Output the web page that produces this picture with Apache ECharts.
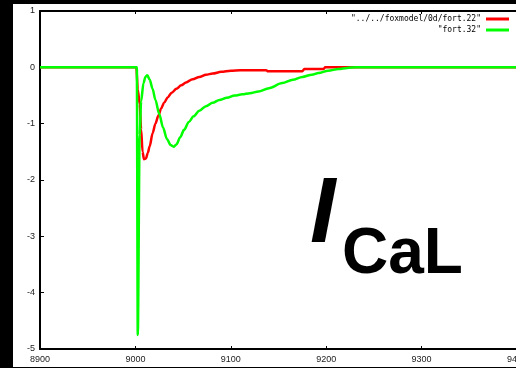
<!DOCTYPE html>
<html><head><meta charset="utf-8">
<script src="https://cdn.jsdelivr.net/npm/echarts@6/dist/echarts.min.js"></script>
<style>html,body{margin:0;padding:0;background:#000;overflow:hidden;width:516px;height:368px}#c{width:530px;height:368px}</style>
</head><body><div id="c"></div>
<script>
const xTicks = [8900, 9000, 9100, 9200, 9300, 9400];
const yTicks = [-5, -4, -3, -2, -1, 0, 1];
const nameRed = '"../../foxmodel/0d/fort.22"';
const nameGreen = '"fort.32"';
const timeRed = [8900, 9000, 9001, 9002.5, 9004.5, 9006, 9007.5, 9009, 9011, 9013, 9015, 9018, 9021, 9024, 9027, 9030, 9034, 9038, 9043, 9048, 9053, 9060, 9067, 9074, 9081, 9090, 9100, 9110, 9137, 9139, 9175, 9177, 9197, 9199, 9230, 9400];
const valRed  = [0, 0, 0, -0.4, -0.65, -1.1, -1.5, -1.63, -1.62, -1.52, -1.40, -1.17, -1.0, -0.86, -0.73, -0.63, -0.53, -0.45, -0.38, -0.32, -0.27, -0.21, -0.17, -0.13, -0.11, -0.08, -0.06, -0.05, -0.05, -0.07, -0.07, -0.03, -0.03, 0, 0, 0];
const timeGreen = [8900, 9000, 9001.5, 9002.5, 9004.5, 9006, 9008.5, 9010.5, 9012.5, 9015, 9018, 9021, 9025, 9029, 9033, 9037, 9040, 9043, 9047, 9051, 9056, 9061, 9067, 9074, 9081, 9088, 9096, 9104, 9112, 9120, 9129, 9140, 9154, 9165, 9175, 9185, 9192, 9202, 9213, 9222, 9231, 9400];
const valGreen  = [0, 0, 0, -4.75, -1.2, -0.6, -0.28, -0.17, -0.14, -0.22, -0.38, -0.58, -0.83, -1.07, -1.27, -1.38, -1.41, -1.37, -1.24, -1.11, -0.97, -0.87, -0.77, -0.69, -0.63, -0.58, -0.54, -0.50, -0.48, -0.46, -0.43, -0.37, -0.28, -0.22, -0.17, -0.13, -0.10, -0.06, -0.03, -0.01, 0, 0];

const zip = (a, b) => a.map((v, i) => [v, b[i]]);
const chart = echarts.init(document.getElementById('c'), null, {renderer: 'canvas'});
const lblFont = {color: '#222', fontSize: 9, fontFamily: 'Liberation Sans', formatter: v => String(v)};
const xBase = {
  type: 'value', min: xTicks[0], max: xTicks[xTicks.length - 1], interval: 100,
  axisLine: {show: true, onZero: false, lineStyle: {color: '#000', width: 2}},
  axisTick: {show: true, inside: true, length: 3, lineStyle: {color: '#000', width: 1}},
  splitLine: {show: false}
};
chart.setOption({
  animation: false,
  backgroundColor: '#000',
  grid: {left: 40, top: 11, width: 478, height: 338, containLabel: false},
  graphic: [
    {type: 'rect', z: -10, shape: {x: 13, y: 4, width: 530, height: 363}, style: {fill: '#fff'}},
    {type: 'text', z: 10, x: 310, y: 217, style: {text: 'I', font: 'italic bold 92px "Liberation Sans"', fill: '#000', textVerticalAlign: 'middle'}},
    {type: 'text', z: 10, x: 342, y: 255, style: {text: 'CaL', font: 'bold 64px "Liberation Sans"', fill: '#000', textVerticalAlign: 'middle'}}
  ],
  legend: [
    {data: [nameRed], right: 21, top: 15, orient: 'vertical', align: 'right', padding: 0, icon: 'rect', itemWidth: 23, itemHeight: 3,
     textStyle: {fontSize: 8, fontFamily: 'DejaVu Sans Mono', color: '#000', padding: [0, 0, 0, 0]}},
    {data: [nameGreen], right: 21, top: 26, orient: 'vertical', align: 'right', padding: 0, icon: 'rect', itemWidth: 23, itemHeight: 3,
     textStyle: {fontSize: 8, fontFamily: 'DejaVu Sans Mono', color: '#000', padding: [0, 0, 0, 0]}}
  ],
  xAxis: [
    Object.assign({}, xBase, {position: 'bottom', axisLabel: Object.assign({margin: 6}, lblFont)}),
    Object.assign({}, xBase, {position: 'top', axisLabel: {show: false}})
  ],
  yAxis: {
    type: 'value', min: yTicks[0], max: yTicks[yTicks.length - 1], interval: 1,
    axisLine: {show: true, onZero: false, lineStyle: {color: '#000', width: 2}},
    axisTick: {show: true, inside: true, length: 4, lineStyle: {color: '#000', width: 1}},
    axisLabel: Object.assign({margin: 5}, lblFont),
    splitLine: {show: false}
  },
  series: [
    {name: nameRed, type: 'line', data: zip(timeRed, valRed), showSymbol: false, smooth: 0.3, smoothMonotone: 'x',
     lineStyle: {color: '#ff0000', width: 2.5}, itemStyle: {color: '#ff0000'}},
    {name: nameGreen, type: 'line', data: zip(timeGreen, valGreen), showSymbol: false, smooth: 0.3, smoothMonotone: 'x',
     lineStyle: {color: '#00ff00', width: 2.5}, itemStyle: {color: '#00ff00'}}
  ]
});
</script></body></html>
